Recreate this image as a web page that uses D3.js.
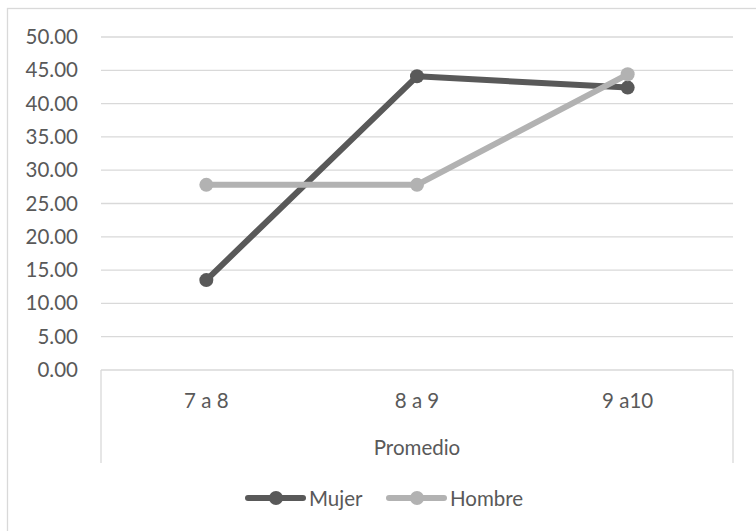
<!DOCTYPE html>
<html>
<head>
<meta charset="utf-8">
<script src="https://cdn.jsdelivr.net/npm/d3@7"></script>
<style>
  html, body { margin: 0; padding: 0; background: #fff; }
  svg { display: block; }
  text { font-family: Lato, "Open Sans", sans-serif; fill: #595959; }
</style>
</head>
<body>
<svg id="chart" width="756" height="531"></svg>
<script>
// Data
const categories = ["7 a 8", "8 a 9", "9 a10"];
const groupLabel = "Promedio";
const seriesNames = ["Mujer", "Hombre"];
const mujer = [13.5, 44.1, 42.4];
const hombre = [27.8, 27.8, 44.4];
const yTicks = [0, 5, 10, 15, 20, 25, 30, 35, 40, 45, 50];
const colors = ["#595959", "#b2b2b2"];

const svg = d3.select("#chart");
const W = 756, H = 531;
const plot = { left: 101, right: 733, top: 37, bottom: 370 };
const boxBottom = 463;

// Outer chart frame
svg.append("rect")
  .attr("x", 7.5).attr("y", 8.5)
  .attr("width", W + 20).attr("height", H + 20)
  .attr("fill", "#fff").attr("stroke", "#d9d9d9").attr("stroke-width", 1.3);

const x = d3.scaleBand().domain(categories).range([plot.left, plot.right]);
const y = d3.scaleLinear().domain([0, 50]).range([plot.bottom, plot.top]);

// Horizontal gridlines (skip 0, drawn as axis line)
svg.append("g").selectAll("line")
  .data(yTicks.filter(d => d > 0))
  .join("line")
  .attr("x1", plot.left).attr("x2", plot.right)
  .attr("y1", d => y(d)).attr("y2", d => y(d))
  .attr("stroke", "#d9d9d9").attr("stroke-width", 1.3);

// Y axis labels
const yAxis = d3.axisLeft(y).tickValues(yTicks).tickFormat(d3.format(".2f")).tickSize(0).tickPadding(23);
const gy = svg.append("g").attr("transform", `translate(${plot.left},0)`).call(yAxis);
gy.select(".domain").remove();
gy.selectAll("text")
  .style("font-size", "20.5px")
  .style("font-family", "Lato, 'Open Sans', sans-serif")
  .attr("fill", "#595959");

// Category box (multi-level axis)
const box = svg.append("g").attr("stroke", "#d9d9d9").attr("stroke-width", 1.3).attr("fill", "none");
box.append("line").attr("x1", plot.left).attr("x2", plot.right).attr("y1", plot.bottom).attr("y2", plot.bottom);
box.append("line").attr("x1", plot.left).attr("x2", plot.left).attr("y1", plot.bottom).attr("y2", boxBottom);
box.append("line").attr("x1", plot.right).attr("x2", plot.right).attr("y1", plot.bottom).attr("y2", boxBottom);

// Category labels
svg.append("g").selectAll("text")
  .data(categories)
  .join("text")
  .attr("x", d => x(d) + x.bandwidth() / 2)
  .attr("y", 408)
  .attr("text-anchor", "middle")
  .style("font-size", "20.5px")
  .text(d => d);

svg.append("text")
  .attr("x", (plot.left + plot.right) / 2)
  .attr("y", 455)
  .attr("text-anchor", "middle")
  .style("font-size", "20.5px")
  .text(groupLabel);

// Lines and markers
const seriesData = [mujer, hombre];
const line = d3.line()
  .x((d, i) => x(categories[i]) + x.bandwidth() / 2)
  .y(d => y(d));

// Draw Mujer first, Hombre on top
seriesData.forEach((vals, si) => {
  const g = svg.append("g");
  g.append("path")
    .datum(vals)
    .attr("d", line)
    .attr("fill", "none")
    .attr("stroke", colors[si])
    .attr("stroke-width", 6)
    .attr("stroke-linejoin", "round")
    .attr("stroke-linecap", "round");
  g.selectAll("circle")
    .data(vals)
    .join("circle")
    .attr("cx", (d, i) => x(categories[i]) + x.bandwidth() / 2)
    .attr("cy", d => y(d))
    .attr("r", 7)
    .attr("fill", colors[si]);
});

// Legend
const legendY = 498;
const legendItems = [
  { name: seriesNames[0], color: colors[0], x0: 248 },
  { name: seriesNames[1], color: colors[1], x0: 389 }
];
const lg = svg.append("g");
legendItems.forEach(it => {
  lg.append("line")
    .attr("x1", it.x0).attr("x2", it.x0 + 55)
    .attr("y1", legendY).attr("y2", legendY)
    .attr("stroke", it.color).attr("stroke-width", 6).attr("stroke-linecap", "round");
  lg.append("circle")
    .attr("cx", it.x0 + 28).attr("cy", legendY).attr("r", 7).attr("fill", it.color);
  lg.append("text")
    .attr("x", it.x0 + 61).attr("y", legendY + 7.5)
    .style("font-size", "20.5px")
    .text(it.name);
});
</script>
</body>
</html>
